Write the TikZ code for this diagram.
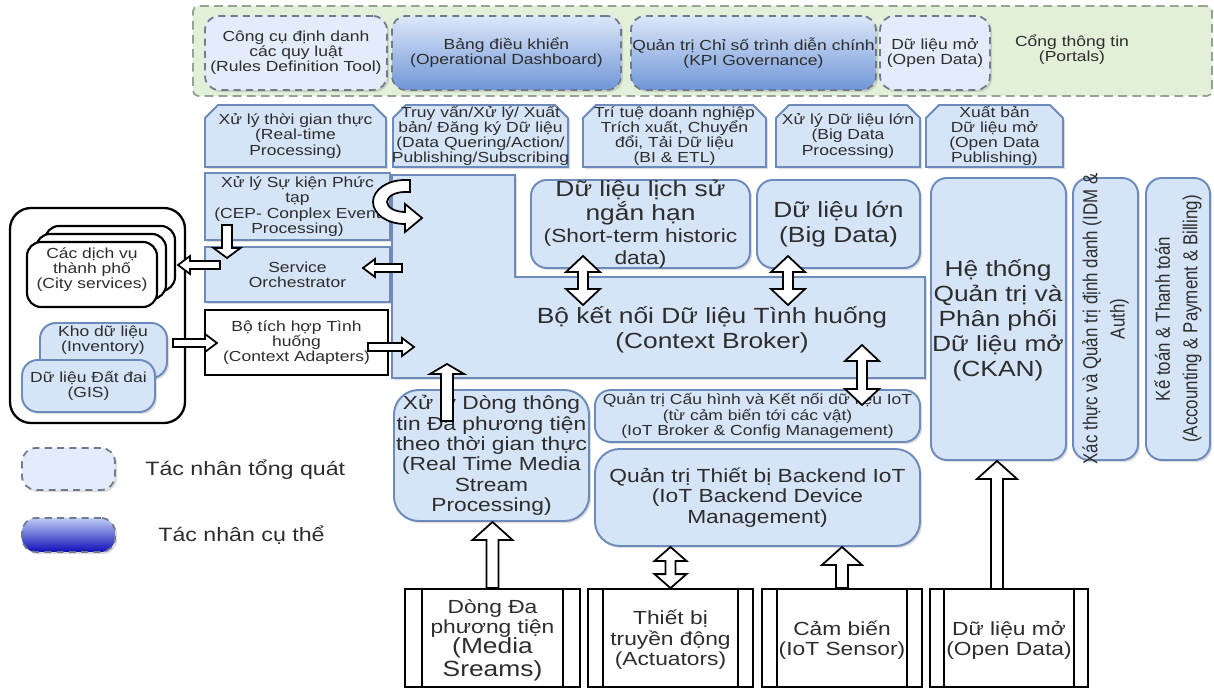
\documentclass[tikz,border=0pt]{standalone}
\usepackage{fontspec}
\setmainfont[FakeStretch=1.2]{Liberation Sans}
\newfontfamily\vfont{Liberation Sans}
\usetikzlibrary{fit,calc,shadows}

\definecolor{lbfill}{RGB}{214,228,248}
\definecolor{lbline}{RGB}{108,138,186}
\definecolor{grfill}{RGB}{226,239,217}
\definecolor{grline}{RGB}{150,162,150}
\definecolor{dline}{RGB}{112,122,142}
\definecolor{gtop}{RGB}{220,231,248}
\definecolor{gbot}{RGB}{112,150,216}
\definecolor{ltop}{RGB}{190,204,244}
\definecolor{lbot}{RGB}{15,15,185}
\definecolor{txt}{RGB}{45,45,45}

\newcommand\fS{\fontsize{8.3}{8.6}\selectfont}
\newcommand\fM{\fontsize{10.8}{11.6}\selectfont}
\newcommand\fL{\fontsize{12.5}{14.2}\selectfont}
\newcommand\fH{\fontsize{12.5}{12.6}\selectfont}
\newcommand\fG{\fontsize{11}{13}\selectfont}
\newcommand\fV{\vfont\fontsize{9.6}{13}\selectfont}

% one drawing unit = 0.02cm = 0.569055pt
\def\pxpt{0.569055}

\tikzset{
  every node/.append style={text=txt, align=center, inner sep=0pt},
  softshadow/.style={drop shadow={shadow xshift=1.2pt, shadow yshift=-1.2pt, opacity=0.22, fill=black!60}},
  lbox/.style={draw=lbline, fill=lbfill, line width=1.1pt, softshadow},
  rbox/.style={lbox, rounded corners=9pt},
  wbox/.style={draw=black, fill=white, line width=1pt},
  genbox/.style={draw=dline, fill=lbfill!70!white, dash pattern=on 4pt off 3pt, line width=1pt, rounded corners=8pt, softshadow},
  specbox/.style={genbox, top color=gtop, bottom color=gbot},
  barrowstyle/.style={draw=black, fill=white, line width=1pt, line join=miter},
}

% hollow block arrow from #1 to #2: shaft width #3, head width #4, head length #5
\newcommand\barrow[5]{%
  \path (#1); \pgfgetlastxy\BAxa\BAya
  \path (#2); \pgfgetlastxy\BAxb\BAyb
  \pgfmathsetmacro\BAang{atan2(\BAyb-\BAya,\BAxb-\BAxa)}%
  \pgfmathsetmacro\BAlen{veclen(\BAxb-\BAxa,\BAyb-\BAya)}%
  \pgfmathsetmacro\BAs{#3*\pxpt/2}%
  \pgfmathsetmacro\BAh{#4*\pxpt/2}%
  \pgfmathsetmacro\BAb{\BAlen-#5*\pxpt}%
  \draw[barrowstyle, shift={(#1)}, rotate=\BAang]
    (0pt,{-\BAs*1pt}) -- ({\BAb*1pt},{-\BAs*1pt}) -- ({\BAb*1pt},{-\BAh*1pt})
    -- ({\BAlen*1pt},0pt) -- ({\BAb*1pt},{\BAh*1pt}) -- ({\BAb*1pt},{\BAs*1pt})
    -- (0pt,{\BAs*1pt}) -- cycle;}

% hollow double-headed block arrow
\newcommand\dbarrow[5]{%
  \path (#1); \pgfgetlastxy\BAxa\BAya
  \path (#2); \pgfgetlastxy\BAxb\BAyb
  \pgfmathsetmacro\BAang{atan2(\BAyb-\BAya,\BAxb-\BAxa)}%
  \pgfmathsetmacro\BAlen{veclen(\BAxb-\BAxa,\BAyb-\BAya)}%
  \pgfmathsetmacro\BAs{#3*\pxpt/2}%
  \pgfmathsetmacro\BAh{#4*\pxpt/2}%
  \pgfmathsetmacro\BAk{#5*\pxpt}%
  \pgfmathsetmacro\BAb{\BAlen-#5*\pxpt}%
  \draw[barrowstyle, shift={(#1)}, rotate=\BAang]
    (0pt,0pt) -- ({\BAk*1pt},{-\BAh*1pt}) -- ({\BAk*1pt},{-\BAs*1pt})
    -- ({\BAb*1pt},{-\BAs*1pt}) -- ({\BAb*1pt},{-\BAh*1pt}) -- ({\BAlen*1pt},0pt)
    -- ({\BAb*1pt},{\BAh*1pt}) -- ({\BAb*1pt},{\BAs*1pt}) -- ({\BAk*1pt},{\BAs*1pt})
    -- ({\BAk*1pt},{\BAh*1pt}) -- cycle;}

% framed block #2 spanning (#3,#4)-(#5,#6), label in its own node #2t
\newcommand\tbox[8]{%
  \node[#1, fit={(#3,#4) (#5,#6)}] (#2) {};
  \node[font=#7] (#2t) at (#2.center) {#8};}

% process block with cut upper corners
\newcommand\procbox[6]{%
  \draw[lbox] (#2,#5) -- (#2,#3+13) -- (#2+13,#3) -- (#4-13,#3) -- (#4,#3+13) -- (#4,#5) -- cycle;
  \node[font=\fS] (#1) at ({(#2+#4)/2},{(#3+#5)/2}) {#6};}

% predefined-process block along the bottom edge
\newcommand\ppbox[6]{%
  \node[wbox, fit={(#2,589) (#3,687)}] (#1) {};
  \draw[line width=1pt] ($(#1.north west)+(#4,0)$) -- ($(#1.south west)+(#4,0)$)
    ($(#1.north east)+(-#4,0)$) -- ($(#1.south east)+(-#4,0)$);
  \node[font=#5] (#1t) at ($(#1.center)+(0,2)$) {#6};}

\begin{document}
\begin{tikzpicture}[x=0.02cm, y=-0.02cm]
\fill[white] (0,0) rectangle (1214,688);
\useasboundingbox (0,0) rectangle (1214,688);

% ---- portals band
\node[draw=grline, fill=grfill, dash pattern=on 5pt off 3pt, line width=1pt, rounded corners=3pt,
      fit={(193,6) (1212,96)}] (portal) {};
\tbox{genbox}{rules}{205}{16}{387}{90}{\fS}{Công cụ định danh\\các quy luật\\(Rules Definition Tool)}
\tbox{specbox}{dash}{392}{16}{621}{90}{\fS}{Bảng điều khiển\\(Operational Dashboard)}
\tbox{specbox}{kpi}{631}{16}{876}{90}{\fS}{Quản trị Chỉ số trình diễn chính\\(KPI Governance)}
\tbox{genbox}{odp}{880}{16}{990}{90}{\fS}{Dữ liệu mở\\(Open Data)}
\node[font=\fS] (portals) at (1072,50) {Cổng thông tin\\(Portals)};

% ---- processing row
\procbox{rtp}{205}{105}{386}{167}{Xử lý thời gian thực\\(Real-time\\Processing)}
\procbox{dq}{393}{105}{568}{167}{Truy vấn/Xử lý/ Xuất\\bản/ Đăng ký Dữ liệu\\(Data Quering/Action/\\Publishing/Subscribing}
\procbox{bi}{583}{105}{766}{167}{Trí tuệ doanh nghiệp\\Trích xuất, Chuyển\\đổi, Tải Dữ liệu\\(BI \& ETL)}
\procbox{bdp}{776}{105}{920}{167}{Xử lý Dữ liệu lớn\\(Big Data\\Processing)}
\procbox{odpub}{926}{105}{1063}{167}{Xuất bản\\Dữ liệu mở\\(Open Data\\Publishing)}

% ---- left column
\tbox{lbox}{cep}{205}{173}{390}{240}{\fS}{Xử lý Sự kiện Phức\\tạp\\(CEP- Conplex Event\\Processing)}
\tbox{lbox}{orch}{205}{247}{390}{302}{\fS}{Service\\Orchestrator}
\tbox{wbox}{adapt}{205}{310}{388}{375}{\fS}{Bộ tích hợp Tình\\huống\\(Context Adapters)}

% ---- context broker
\draw[lbox] (392,175) -- (515,175) -- (515,277) -- (925,277) -- (925,378) -- (392,378) -- cycle;
\node[font=\fL] (broker) at (712,330) {Bộ kết nối Dữ liệu Tình huống\\(Context Broker)};
\tbox{rbox}{hist}{531}{180}{750}{268}{\fH}{Dữ liệu lịch sử\\ngắn hạn\\{\fM(Short-term historic}\\{\fM data)}}
\tbox{rbox}{bigd}{757}{180}{920}{268}{\fL}{Dữ liệu lớn\\(Big Data)}

% ---- right columns
\node[rbox, fit={(931,178) (1066,460)}] (ckan) {};
\node[font=\fL] (ckant) at (998,320) {Hệ thống\\Quản trị và\\Phân phối\\Dữ liệu mở\\(CKAN)};
\node[rbox, fit={(1073,178) (1138,460)}] (idm) {};
\node[font=\fV, xscale=1.2, rotate=90] (idmt) at (idm.center) {Xác thực và Quản trị định danh (IDM \&\\Auth)};
\node[rbox, fit={(1146,178) (1210,460)}] (acc) {};
\node[font=\fV, xscale=1.2, rotate=90] (acct) at (acc.center) {Kế toán \& Thanh toán\\(Accounting \& Payment \& Billing)};

% ---- lower middle
\tbox{rbox, rounded corners=14pt}{mp}{394}{390}{589}{521}{\fM}{Xử lý Dòng thông\\tin Đa phương tiện\\theo thời gian thực\\(Real Time Media\\Stream\\Processing)}
\tbox{rbox}{iotb}{595}{390}{920}{442}{\fS}{Quản trị Cấu hình và Kết nối dữ liệu IoT\\(từ cảm biến tới các vật)\\(IoT Broker \& Config Management)}
\tbox{rbox, rounded corners=14pt}{be}{595}{449}{920}{546}{\fM}{Quản trị Thiết bị Backend IoT\\(IoT Backend Device\\Management)}

% ---- bottom sources
\ppbox{ms}{405}{580}{18}{\fM}{Dòng Đa\\phương tiện\\{\fL(Media}\\{\fL Sreams)}}
\ppbox{act}{588}{753}{16}{\fM}{Thiết bị\\truyền động\\(Actuators)}
\ppbox{sen}{762}{922}{16}{\fM}{Cảm biến\\(IoT Sensor)}
\ppbox{od}{930}{1088}{15}{\fM}{Dữ liệu mở\\(Open Data)}

% ---- external services
\node[draw=black, fill=white, line width=1.3pt, rounded corners=12pt, fit={(10,208) (185,423)}] (ext) {};
\node[wbox, line width=1.2pt, rounded corners=8pt, fit={(45,226) (175,291)}] (cs3) {};
\node[wbox, line width=1.2pt, rounded corners=8pt, fit={(36,234) (166,299)}] (cs2) {};
\node[wbox, line width=1.2pt, rounded corners=8pt, fit={(27,242) (157,307)}] (cs) {};
\node[font=\fS] (cst) at ($(cs.center)+(0,-5)$) {Các dịch vụ\\thành phố\\(City services)};
\node[rbox, fit={(40,323) (167,378)}] (inv) {};
\node[font=\fS] (invt) at (103,340) {Kho dữ liệu\\(Inventory)};
\tbox{rbox}{gis}{22}{360}{155}{412}{\fS}{Dữ liệu Đất đai\\(GIS)}

% ---- legend
\node[genbox, fit={(22,448) (115,490)}] (lgen) {};
\node[font=\fG, anchor=west] (lgent) at (145,470) {Tác nhân tổng quát};
\node[genbox, top color=ltop, bottom color=lbot, fit={(22,518) (115,552)}] (lspec) {};
\node[font=\fG, anchor=west] (lspect) at (158,535) {Tác nhân cụ thể};

% ---- arrow end points
\coordinate (cepa) at (227,225);
\coordinate (orcha) at (227,258);
\coordinate (orchl) at (220,265);
\coordinate (csr) at (178,265);
\coordinate (brl) at (402,268);
\coordinate (orchr) at (363,268);
\coordinate (invr) at (173,343);
\coordinate (adl) at (217,343);
\coordinate (adr) at (368,347);
\coordinate (brin) at (414,347);
\coordinate (mpt) at (447,421);
\coordinate (brb) at (447,364);
\coordinate (histb) at (583,256);
\coordinate (brh) at (583,305);
\coordinate (bigb) at (788,256);
\coordinate (brg) at (788,305);
\coordinate (brr) at (862,345);
\coordinate (iott) at (862,405);
\coordinate (odt) at (997,589);

% ---- connectors
\barrow{cepa}{orcha}{10}{27}{10}
\barrow{orchl}{csr}{8}{18}{12}
\barrow{brl}{orchr}{8}{18}{12}
\barrow{invr}{adl}{8}{18}{12}
\barrow{adr}{brin}{8}{18}{12}
\barrow{mpt}{brb}{12}{34}{10}
\dbarrow{histb}{brh}{10}{34}{16}
\dbarrow{bigb}{brg}{10}{34}{16}
\dbarrow{brr}{iott}{10}{34}{16}
\barrow{ms.north}{ms.north |- mp.south}{12}{40}{18}
\dbarrow{act.north}{act.north |- be.south}{10}{32}{14}
\barrow{sen.north}{sen.north |- be.south}{12}{40}{18}
\barrow{odt}{odt |- ckan.south}{12}{40}{18}

% ---- U-turn arrow on the event processing block
\draw[barrowstyle] (410,180) -- (405,180) arc[start angle=270, end angle=90, x radius=32, y radius=22]
  -- (405,232) -- (422,218) -- (405,204) -- (405,212)
  arc[start angle=90, end angle=270, x radius=18, y radius=10] -- (410,192) -- cycle;
\end{tikzpicture}
\end{document}
